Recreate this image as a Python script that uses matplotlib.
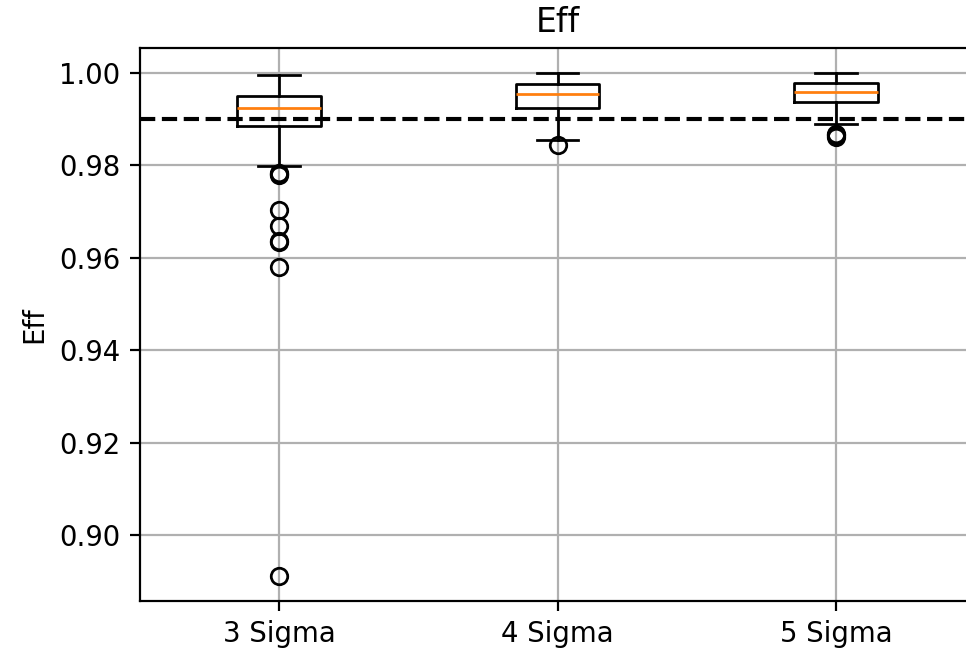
import matplotlib
matplotlib.use("Agg")
import matplotlib.pyplot as plt

# Box statistics of the efficiency per sigma threshold
labels = ["3 Sigma", "4 Sigma", "5 Sigma"]
medians = [0.99248, 0.99551, 0.99595]
q1 = [0.98851, 0.99242, 0.99372]
q3 = [0.99501, 0.99768, 0.99783]
whisker_low = [0.97991, 0.98561, 0.98901]
whisker_high = [0.99963, 1.00000, 1.00000]
fliers = [
    [0.97840, 0.97815, 0.97790, 0.97038, 0.96698, 0.96360, 0.96345, 0.95810, 0.89114],
    [0.98446],
    [0.98690, 0.98650, 0.98620],
]
target = 0.99

stats = []
for i, lab in enumerate(labels):
    stats.append(dict(label=lab, med=medians[i], q1=q1[i], q3=q3[i],
                      whislo=whisker_low[i], whishi=whisker_high[i],
                      fliers=fliers[i]))

DPI = 198
fig = plt.figure(figsize=(966 / DPI, 653 / DPI), dpi=DPI)
ax = fig.add_axes([140 / 966, 52 / 653, 835 / 966, 553 / 653])
ax.bxp(stats, positions=[1, 2, 3], widths=0.3)
ax.axhline(target, color="k", linestyle="--")
ax.set_title("Eff")
ax.set_ylabel("Eff")
ax.grid(True)
ax.set_axisbelow(True)

fig.savefig("out.png", dpi=DPI)
